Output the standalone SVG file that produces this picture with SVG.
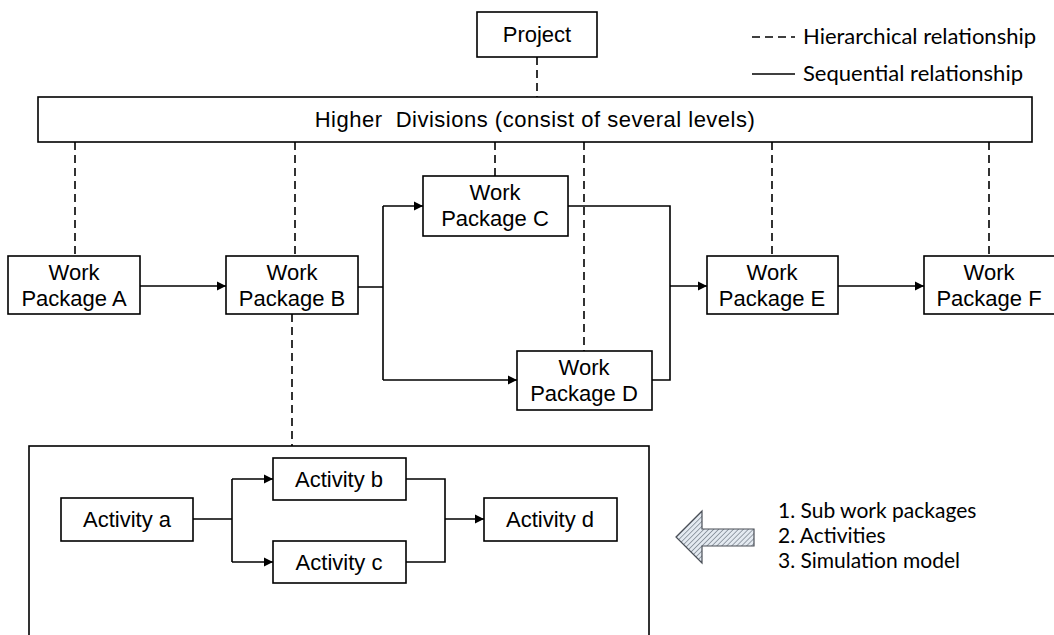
<svg xmlns="http://www.w3.org/2000/svg" width="1054" height="635" viewBox="0 0 1054 635">
  <defs>
    <style>
      .box { fill: #fff; stroke: #000; stroke-width: 1.6; }
      .lbl { font-family: "Liberation Sans", Arial, sans-serif; font-size: 22px; fill: #000; text-anchor: middle; }
      .note { font-family: Lato, "Open Sans", sans-serif; font-size: 22px; fill: #000; }
      .list { font-family: Lato, "Open Sans", sans-serif; font-size: 21px; fill: #000; }
      .seq { fill: none; stroke: #000; stroke-width: 1.6; }
      .hier { fill: none; stroke: #000; stroke-width: 1.6; stroke-dasharray: 8 5; }
    </style>
    <marker id="head" viewBox="0 0 10 10" refX="10" refY="5" markerWidth="9" markerHeight="11" markerUnits="userSpaceOnUse" orient="auto">
      <path d="M0,0 L10,5 L0,10 z" fill="#000"/>
    </marker>
    <pattern id="hatch" width="3.5" height="3.5" patternUnits="userSpaceOnUse" patternTransform="rotate(45)">
      <rect width="3.5" height="3.5" fill="#e4eaf1"/>
      <line x1="0" y1="0" x2="0" y2="3.5" stroke="#56606c" stroke-width="1.1"/>
    </pattern>
  </defs>

  <!-- legend -->
  <g id="legend">
    <line class="hier" x1="752" y1="37" x2="795" y2="37" stroke-dasharray="11 5"/>
    <text class="note" x="803" y="44">Hierarchical relationship</text>
    <line class="seq" x1="752" y1="74" x2="795" y2="74"/>
    <text class="note" x="803" y="81">Sequential relationship</text>
  </g>

  <!-- connectors -->
  <g id="connectors">
    <!-- hierarchical (dashed) -->
    <line class="hier" x1="537" y1="57" x2="537" y2="97"/>
    <line class="hier" x1="75" y1="142" x2="75" y2="256"/>
    <line class="hier" x1="295" y1="142" x2="295" y2="256"/>
    <line class="hier" x1="495" y1="142" x2="495" y2="176"/>
    <line class="hier" x1="584" y1="142" x2="584" y2="351"/>
    <line class="hier" x1="772" y1="142" x2="772" y2="256"/>
    <line class="hier" x1="989" y1="142" x2="989" y2="256"/>
    <line class="hier" x1="292" y1="314" x2="292" y2="446"/>
    <!-- sequential (solid) -->
    <path class="seq" d="M140,286 H226" marker-end="url(#head)"/>
    <path class="seq" d="M358,287 H383 M383,206 V380"/>
    <path class="seq" d="M383,206 H423" marker-end="url(#head)"/>
    <path class="seq" d="M383,380 H517" marker-end="url(#head)"/>
    <path class="seq" d="M568,206 H670 V380 H652"/>
    <path class="seq" d="M670,286 H707" marker-end="url(#head)"/>
    <path class="seq" d="M838,286 H924" marker-end="url(#head)"/>
    <path class="seq" d="M193,519 H232 M232,479 V562"/>
    <path class="seq" d="M232,479 H273" marker-end="url(#head)"/>
    <path class="seq" d="M232,562 H273" marker-end="url(#head)"/>
    <path class="seq" d="M406,479 H445 V562 H406"/>
    <path class="seq" d="M445,519 H484" marker-end="url(#head)"/>
  </g>

  <!-- top levels -->
  <g id="project">
    <rect class="box" x="477" y="12" width="120" height="45"/>
    <text class="lbl" x="537" y="42">Project</text>
  </g>
  <g id="higher-divisions">
    <rect class="box" x="38" y="97" width="994" height="45"/>
    <text class="lbl" x="535" y="127" letter-spacing="0.5">Higher&#160; Divisions (consist of several levels)</text>
  </g>

  <!-- work packages -->
  <g id="wp-a">
    <rect class="box" x="8" y="256" width="132" height="58"/>
    <text class="lbl" x="74" y="280">Work</text>
    <text class="lbl" x="74" y="306">Package A</text>
  </g>
  <g id="wp-b">
    <rect class="box" x="226" y="256" width="132" height="58"/>
    <text class="lbl" x="292" y="280">Work</text>
    <text class="lbl" x="292" y="306">Package B</text>
  </g>
  <g id="wp-c">
    <rect class="box" x="423" y="176" width="145" height="60"/>
    <text class="lbl" x="495" y="200">Work</text>
    <text class="lbl" x="495" y="226">Package C</text>
  </g>
  <g id="wp-d">
    <rect class="box" x="517" y="351" width="135" height="59"/>
    <text class="lbl" x="584" y="375">Work</text>
    <text class="lbl" x="584" y="401">Package D</text>
  </g>
  <g id="wp-e">
    <rect class="box" x="707" y="256" width="131" height="58"/>
    <text class="lbl" x="772" y="280">Work</text>
    <text class="lbl" x="772" y="306">Package E</text>
  </g>
  <g id="wp-f">
    <rect class="box" x="924" y="256" width="131" height="58"/>
    <text class="lbl" x="989" y="280">Work</text>
    <text class="lbl" x="989" y="306">Package F</text>
  </g>

  <!-- detail of Work Package B -->
  <g id="wp-b-detail">
    <rect x="29" y="446" width="620" height="200" fill="none" stroke="#000" stroke-width="1.6"/>
  </g>
  <g id="activity-a">
    <rect class="box" x="61" y="498" width="132" height="43"/>
    <text class="lbl" x="127" y="527">Activity a</text>
  </g>
  <g id="activity-b">
    <rect class="box" x="273" y="458" width="133" height="42"/>
    <text class="lbl" x="339" y="487">Activity b</text>
  </g>
  <g id="activity-c">
    <rect class="box" x="273" y="541" width="133" height="42"/>
    <text class="lbl" x="339" y="570">Activity c</text>
  </g>
  <g id="activity-d">
    <rect class="box" x="484" y="498" width="133" height="43"/>
    <text class="lbl" x="550" y="527">Activity d</text>
  </g>

  <!-- hatched arrow and list -->
  <g id="refine-arrow">
    <path d="M676,537 L702,511 V529 H754 V546 H702 V563 Z" fill="url(#hatch)" stroke="#4a4f57" stroke-width="1.2"/>
  </g>
  <g id="refine-list">
    <text class="list" x="778" y="518">1. Sub work packages</text>
    <text class="list" x="778" y="543">2. Activities</text>
    <text class="list" x="778" y="568">3. Simulation model</text>
  </g>
</svg>
